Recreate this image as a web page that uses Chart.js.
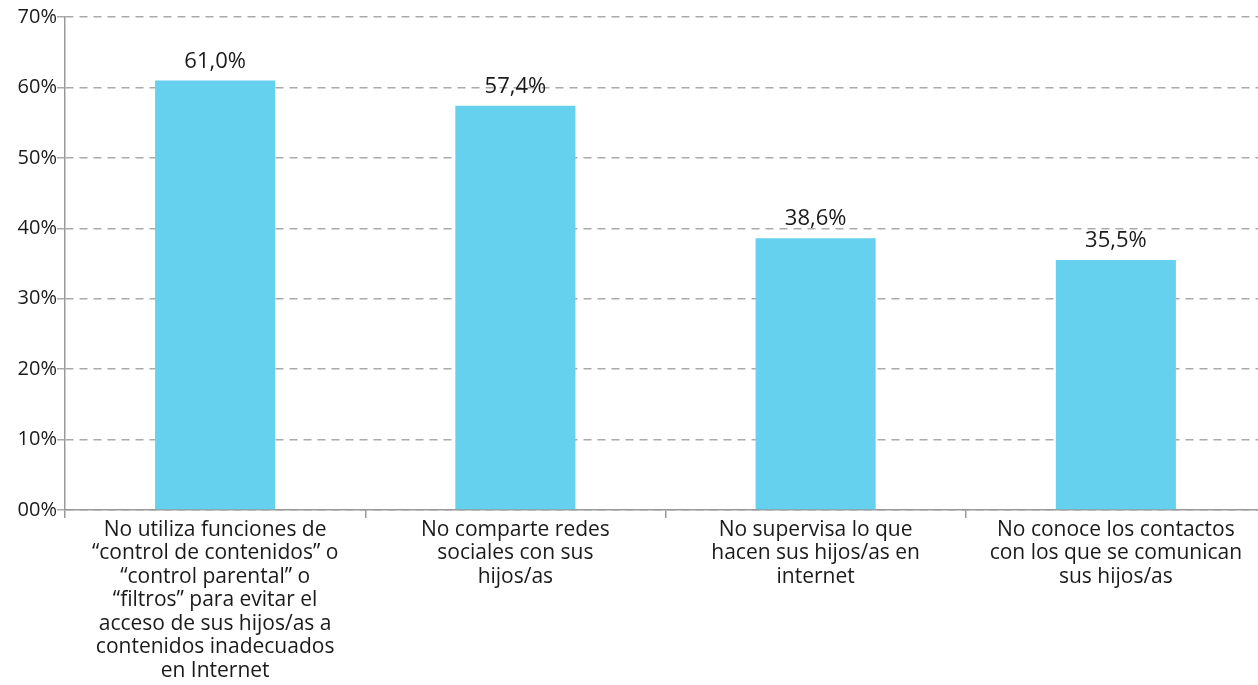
<!DOCTYPE html>
<html>
<head>
<meta charset="utf-8">
<script src="https://cdn.jsdelivr.net/npm/chart.js@4.4.1/dist/chart.umd.min.js"></script>
<style>
    html, body { margin: 0; padding: 0; background: #fff; overflow: hidden; }
    #wrap { width: 1266px; height: 685px; }
</style>
</head>
<body>
<div id="wrap"><canvas id="barChart" width="1266" height="685"></canvas></div>
<script>
// Datos del gráfico
const categories = [
    ['No utiliza funciones de', '“control de contenidos” o', '“control parental” o', '“filtros” para evitar el', 'acceso de sus hijos/as a', 'contenidos inadecuados', 'en Internet'],
    ['No comparte redes', 'sociales con sus', 'hijos/as'],
    ['No supervisa lo que', 'hacen sus hijos/as en', 'internet'],
    ['No conoce los contactos', 'con los que se comunican', 'sus hijos/as']
];
const values = [61.0, 57.4, 38.6, 35.5];
const yTicks = [0, 10, 20, 30, 40, 50, 60, 70];

const FONT = '"Open Sans", "DejaVu Sans", sans-serif';

// Etiquetas de valor encima de cada barra
const valueLabels = {
    id: 'valueLabels',
    afterDatasetsDraw(chart) {
        const ctx = chart.ctx;
        const meta = chart.getDatasetMeta(0);
        ctx.save();
        ctx.font = '22px ' + FONT;
        ctx.fillStyle = '#1a1a1a';
        ctx.textAlign = 'center';
        ctx.textBaseline = 'bottom';
        meta.data.forEach(function(bar, i) {
            const txt = values[i].toFixed(1).replace('.', ',') + '%';
            ctx.fillText(txt, bar.x, bar.y - 8);
        });
        ctx.restore();
    }
};

new Chart(document.getElementById('barChart'), {
    type: 'bar',
    data: {
        labels: categories,
        datasets: [{
            data: values,
            backgroundColor: '#66D1EE',
            borderWidth: 0,
            barPercentage: 0.4,
            categoryPercentage: 1.0
        }]
    },
    options: {
        responsive: false,
        animation: false,
        layout: { padding: { top: 17, right: 0, bottom: 0, left: 0 } },
        plugins: {
            legend: { display: false },
            tooltip: { enabled: false }
        },
        scales: {
            x: {
                offset: true,
                afterFit: function(scale) { scale.height = 175; },
                border: { display: true, color: '#999', width: 1.5 },
                grid: {
                    offset: true,
                    drawOnChartArea: false,
                    drawTicks: true,
                    tickLength: 8,
                    color: '#999',
                    lineWidth: 1.5
                },
                ticks: {
                    color: '#1a1a1a',
                    font: { family: FONT, size: 21, lineHeight: 1.12 },
                    padding: 0,
                    maxRotation: 0,
                    autoSkip: false
                }
            },
            y: {
                min: 0,
                max: 70,
                afterFit: function(scale) { scale.width = 65; },
                afterBuildTicks: function(scale) {
                    scale.ticks = yTicks.map(function(v) { return { value: v }; });
                },
                border: { display: true, color: '#999', width: 1.5, dash: [8, 6] },
                grid: {
                    color: '#aaa',
                    lineWidth: 1.5,
                    tickLength: 8,
                    drawTicks: true
                },
                ticks: {
                    color: '#1a1a1a',
                    font: { family: FONT, size: 20 },
                    padding: 0,
                    callback: function(v) { return String(v).padStart(2, '0') + '%'; }
                }
            }
        }
    },
    plugins: [valueLabels]
});
</script>
</body>
</html>
